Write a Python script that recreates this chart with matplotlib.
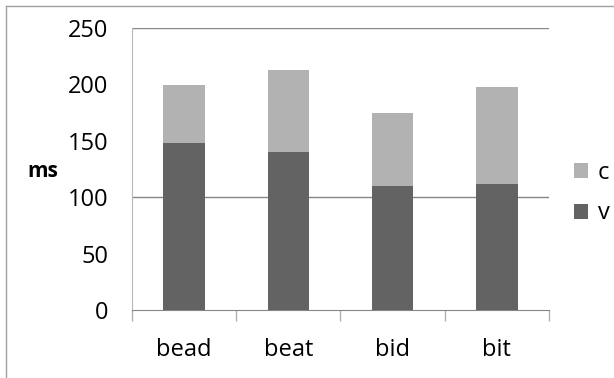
import matplotlib
matplotlib.use("Agg")
import matplotlib.pyplot as plt
from matplotlib.lines import Line2D
from matplotlib.patches import Patch

# data
words = ["bead", "beat", "bid", "bit"]
v_ms = [148, 140, 110, 112]
c_ms = [51, 73, 65, 86]
y_ticks = [0, 50, 100, 150, 200, 250]

dark = "#636363"
light = "#b2b2b2"
grid_col = "#868686"

plt.rcParams["font.family"] = ["Open Sans", "DejaVu Sans"]

fig = plt.figure(figsize=(6.14, 3.78), dpi=100)
ax = fig.add_axes([0.215, 0.18, 0.679, 0.746])

x = range(len(words))
ax.bar(x, v_ms, width=0.4, color=dark, zorder=3)
ax.bar(x, c_ms, width=0.4, bottom=v_ms, color=light, zorder=3)

ax.set_xlim(-0.5, len(words) - 0.5)
ax.set_ylim(0, 250)

# labels on every 50, but only a few lines/ticks survive in the original
ax.set_yticks(y_ticks)
ax.set_yticklabels([str(t) for t in y_ticks], fontsize=17)
ax.set_yticks([0, 100, 250], minor=True)
ax.tick_params(axis="y", which="major", length=0, pad=17)
ax.tick_params(axis="y", which="minor", length=7, color=grid_col, width=1)
for yv in [100, 250]:
    ax.axhline(yv, color=grid_col, linewidth=1, zorder=1)

ax.set_xticks(list(x))
ax.set_xticklabels(words, fontsize=17)
ax.set_xticks([i - 0.5 for i in range(len(words) + 1)], minor=True)
ax.tick_params(axis="x", which="major", length=0, pad=20)
ax.tick_params(axis="x", which="minor", length=8, color="#b0b0b0", width=1)

for s in ["top", "right"]:
    ax.spines[s].set_visible(False)
ax.spines["left"].set_color("#b8b8b8")
ax.spines["bottom"].set_color(grid_col)

ax.set_ylabel("ms", rotation=0, fontsize=15, fontweight="bold", va="center")
ax.yaxis.set_label_coords(-0.215, 0.49)

handles = [Patch(facecolor=light, label="c"), Patch(facecolor=dark, label="v")]
fig.legend(handles=handles, loc="center left", bbox_to_anchor=(0.935, 0.489),
           frameon=False, fontsize=17, borderpad=0, borderaxespad=0,
           handlelength=0.6, handleheight=0.6, handletextpad=0.4,
           labelspacing=0.7)

# outer chart border (left and top only visible)
fig.add_artist(Line2D([0.01, 0.01], [0, 0.984], color="#a0a0a0", linewidth=1))
fig.add_artist(Line2D([0.01, 1], [0.984, 0.984], color="#a0a0a0", linewidth=1))

fig.savefig("out.png", dpi=100)
